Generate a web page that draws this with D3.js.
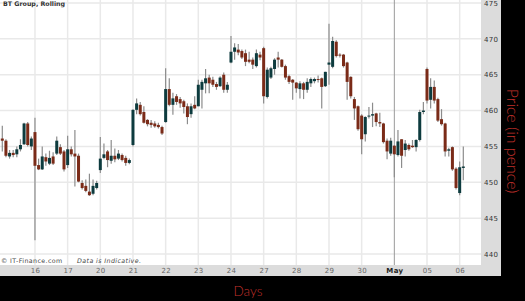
<!DOCTYPE html>
<html><head><meta charset="utf-8">
<script src="https://cdn.jsdelivr.net/npm/d3@7"></script>
<style>html,body{margin:0;padding:0;background:#000;overflow:hidden}svg{display:block}</style>
</head><body>
<svg id="c" width="525" height="301"></svg>
<script>
const openP = [456.1,455.8,453.6,454.1,453.9,454.6,455.3,458.2,455.0,
457.0,452.4,451.8,453.5,452.6,453.6,454.0,454.9,454.3,
452.4,454.6,454.0,453.7,449.9,449.5,448.7,448.4,449.2,
451.7,453.4,454.3,453.0,453.7,453.3,453.8,453.4,452.7,
455.2,460.1,460.8,459.8,458.7,458.3,458.2,458.0,457.7,
458.4,463.0,460.8,462.0,461.6,461.3,460.6,459.5,460.8,
460.6,462.9,463.8,464.6,464.3,463.7,463.4,465.0,462.9,
466.7,468.2,468.5,468.3,468.0,467.1,467.1,466.2,467.8,
468.7,461.9,464.6,465.8,467.4,467.1,466.2,464.8,464.3,
463.9,463.0,463.8,462.9,463.8,464.1,464.4,464.5,463.4,
466.4,466.1,469.6,467.8,467.8,466.7,464.7,461.6,460.6,
459.3,456.7,459.2,459.3,459.6,458.4,458.2,455.8,454.0,
455.1,453.8,456.0,454.5,455.2,455.1,454.9,455.9,459.8,
465.8,461.5,463.3,461.6,458.8,458.2,454.4,454.9,451.9,
448.5,452.0];
const highP = [457.9,456.0,454.5,454.5,455.0,456.0,458.3,458.4,456.4,
459.0,453.3,455.0,454.0,454.4,454.2,456.4,455.3,454.5,
456.5,455.0,457.3,454.0,450.3,450.4,451.2,450.4,450.2,
456.3,455.4,454.5,455.9,454.7,454.5,454.0,453.7,453.3,
460.2,461.7,461.2,460.6,458.8,458.7,458.5,458.3,457.9,
465.9,464.5,462.5,462.3,461.9,461.5,461.0,461.0,462.0,
464.3,464.3,465.8,465.0,464.7,464.0,464.8,465.3,464.0,
470.4,469.4,469.3,468.5,468.5,468.2,467.4,468.5,468.2,
468.9,466.0,466.1,467.3,468.2,467.2,466.4,465.0,464.4,
464.0,464.1,464.0,464.5,464.6,464.6,464.9,464.6,465.4,
472.1,470.3,469.8,468.0,467.9,466.8,464.8,461.9,460.7,
459.5,459.2,460.5,461.1,459.7,459.7,458.3,456.1,456.2,
455.2,457.3,456.0,455.9,455.4,455.9,456.0,460.1,461.2,
466.0,464.5,464.2,461.8,460.2,458.3,454.8,455.0,452.1,
452.9,455.0];
const lowP = [454.3,453.5,453.3,453.5,453.5,454.3,455.2,455.0,454.5,
441.9,451.7,451.7,452.3,452.4,452.4,453.8,453.8,451.5,
452.0,453.6,449.4,450.0,449.0,448.6,448.1,448.2,449.0,
451.3,453.2,452.1,452.6,452.8,453.1,452.9,452.3,452.5,
455.0,459.5,459.3,458.2,457.8,457.6,457.6,457.5,456.6,
458.3,460.6,459.4,460.8,460.4,459.6,458.1,459.0,460.2,
460.6,460.3,462.4,462.4,463.3,462.9,463.3,462.5,462.5,
466.6,467.1,467.7,467.2,466.2,466.6,465.8,466.0,467.0,
461.0,461.7,464.4,465.0,466.0,466.0,464.3,463.7,461.5,
462.5,461.7,461.6,462.5,463.3,463.8,463.9,460.3,463.3,
463.6,465.9,467.4,467.4,466.0,461.5,461.7,458.7,457.2,
453.9,455.7,458.9,457.7,457.8,457.7,455.4,453.2,453.7,
450.7,453.6,452.0,453.6,454.4,454.8,454.3,455.7,459.5,
461.0,460.3,461.0,458.4,457.9,453.6,453.6,451.6,449.0,
448.2,450.3];
const closeP = [455.8,453.7,454.1,453.8,454.6,455.2,458.2,455.2,456.1,
452.3,451.8,453.6,452.9,453.4,452.6,455.8,454.0,451.8,
454.6,453.9,453.6,450.1,449.2,448.8,448.2,449.5,449.9,
453.3,453.9,453.1,453.7,453.2,454.0,453.1,452.7,453.1,
460.1,461.0,459.5,458.3,458.1,458.0,457.8,457.7,456.8,
463.0,460.8,461.7,461.2,461.0,460.5,459.1,460.6,460.3,
463.6,464.0,464.5,463.8,463.6,463.3,464.6,462.9,463.6,
468.2,468.8,468.1,467.4,466.8,466.8,466.4,468.0,467.4,
462.0,465.7,465.9,467.1,467.1,466.1,464.6,464.0,463.9,
463.1,463.8,462.9,464.0,464.4,464.4,464.3,463.3,465.4,
466.7,469.7,467.6,467.7,466.2,464.0,462.0,460.3,457.4,
456.0,459.1,459.3,459.5,458.4,458.2,455.6,454.3,455.8,
453.9,455.7,453.7,455.4,454.6,454.9,455.9,459.8,460.0,
461.4,463.3,461.4,458.6,458.1,454.3,454.6,451.8,449.2,
452.1,452.2];
const dayLabels = ['15','16','17','20','21','22','23','24','27','28','29','30','May','05','06'];
const candlesPerDay = [9,9,9,9,9,9,9,9,9,9,9,9,9,9,2];
const priceTicks = [440,445,450,455,460,465,470,475];

const svg = d3.select('#c');
svg.append('rect').attr('width',525).attr('height',301).attr('fill','#000');
svg.append('rect').attr('x',0).attr('y',0).attr('width',501).attr('height',276).attr('fill','#dcdcdc');
svg.append('rect').attr('x',0).attr('y',0).attr('width',481).attr('height',265).attr('fill','#fff');

const n = openP.length;
const x = d3.scaleLinear().domain([0, n-1]).range([2.3, 463.3]);
const y = d3.scaleLinear().domain([440, 475]).range([254, 3]);

const dayStarts = [];
let acc = 0;
candlesPerDay.forEach((c,i)=>{ dayStarts.push({idx:acc, label:dayLabels[i]}); acc += c; });
const shownDays = dayStarts.slice(1);

// grid
const grid = svg.append('g');
grid.selectAll('line.h').data(priceTicks).enter().append('line')
  .attr('x1',0).attr('x2',481).attr('y1',d=>y(d)).attr('y2',d=>y(d))
  .attr('stroke','#e9e9e9').attr('stroke-width',1.5);
grid.selectAll('line.v').data(shownDays).enter().append('line')
  .attr('x1',d=>x(d.idx)).attr('x2',d=>x(d.idx)).attr('y1',0).attr('y2',265)
  .attr('stroke',d=>d.label==='May'?'#9a9a9a':'#e9e9e9')
  .attr('stroke-width',d=>d.label==='May'?1:1.5);

// candles
const data = d3.range(n).map(i=>({i,o:openP[i],h:highP[i],l:lowP[i],c:closeP[i]}));
const g = svg.append('g');
g.selectAll('line.w').data(data).enter().append('line')
  .attr('x1',d=>x(d.i)).attr('x2',d=>x(d.i))
  .attr('y1',d=>y(d.h)).attr('y2',d=>y(d.l))
  .attr('stroke','#8c8c8c').attr('stroke-width',1.2);
g.selectAll('rect.b').data(data).enter().append('rect')
  .attr('x',d=>x(d.i)-1.5).attr('width',3)
  .attr('y',d=>y(Math.max(d.o,d.c)))
  .attr('height',d=>Math.max(1, Math.abs(y(d.o)-y(d.c))))
  .attr('fill',d=>d.c>=d.o?'#0d3b3e':'#7a2b18');

// right axis
const ra = svg.append('g').attr('transform','translate(482,0)')
  .call(d3.axisRight(y).tickValues(priceTicks).tickSize(0).tickPadding(2).tickFormat(d3.format('d')));
ra.select('.domain').remove();
ra.selectAll('text').attr('font-family','DejaVu Sans, Verdana, sans-serif').attr('font-size',7)
  .attr('fill','#333').attr('letter-spacing',0.3);

// bottom axis
const ba = svg.append('g').attr('transform','translate(0,265)')
  .call(d3.axisBottom(x).tickValues(shownDays.map(d=>d.idx)).tickSize(0).tickPadding(3)
    .tickFormat(v=>shownDays.find(d=>d.idx===v).label));
ba.select('.domain').remove();
ba.selectAll('text').attr('font-family','DejaVu Sans, Verdana, sans-serif').attr('font-size',7)
  .attr('letter-spacing',0.3)
  .attr('font-weight',v=>shownDays.find(d=>d.idx===v).label==='May'?'bold':'normal')
  .attr('fill',v=>shownDays.find(d=>d.idx===v).label==='May'?'#222':'#666');

// title
svg.append('text').attr('x',3).attr('y',6).text('BT Group, Rolling')
  .attr('font-family','DejaVu Sans, Verdana, sans-serif').attr('font-size',6.3)
  .attr('font-weight','bold').attr('fill','#333');

// watermark
const wm = svg.append('text').attr('x',1).attr('y',263)
  .attr('font-family','DejaVu Sans, Verdana, sans-serif').attr('font-size',6.3).attr('fill','#444')
  .attr('letter-spacing',0.4);
wm.append('tspan').text('© IT-Finance.com');
wm.append('tspan').attr('x',77).attr('font-style','italic').text('Data is Indicative.');

// axis titles
svg.append('text').attr('transform','translate(513,141) rotate(90)')
  .attr('text-anchor','middle').attr('dominant-baseline','central')
  .attr('font-family','Lato, Open Sans, sans-serif').attr('font-size',16).attr('font-weight',300)
  .attr('fill','#c0302b').text('Price (in pence)');
svg.append('text').attr('x',248).attr('y',296).attr('text-anchor','middle')
  .attr('font-family','Lato, Open Sans, sans-serif').attr('font-size',13.5).attr('font-weight',300)
  .attr('fill','#c0302b').text('Days');
</script>
</body></html>
